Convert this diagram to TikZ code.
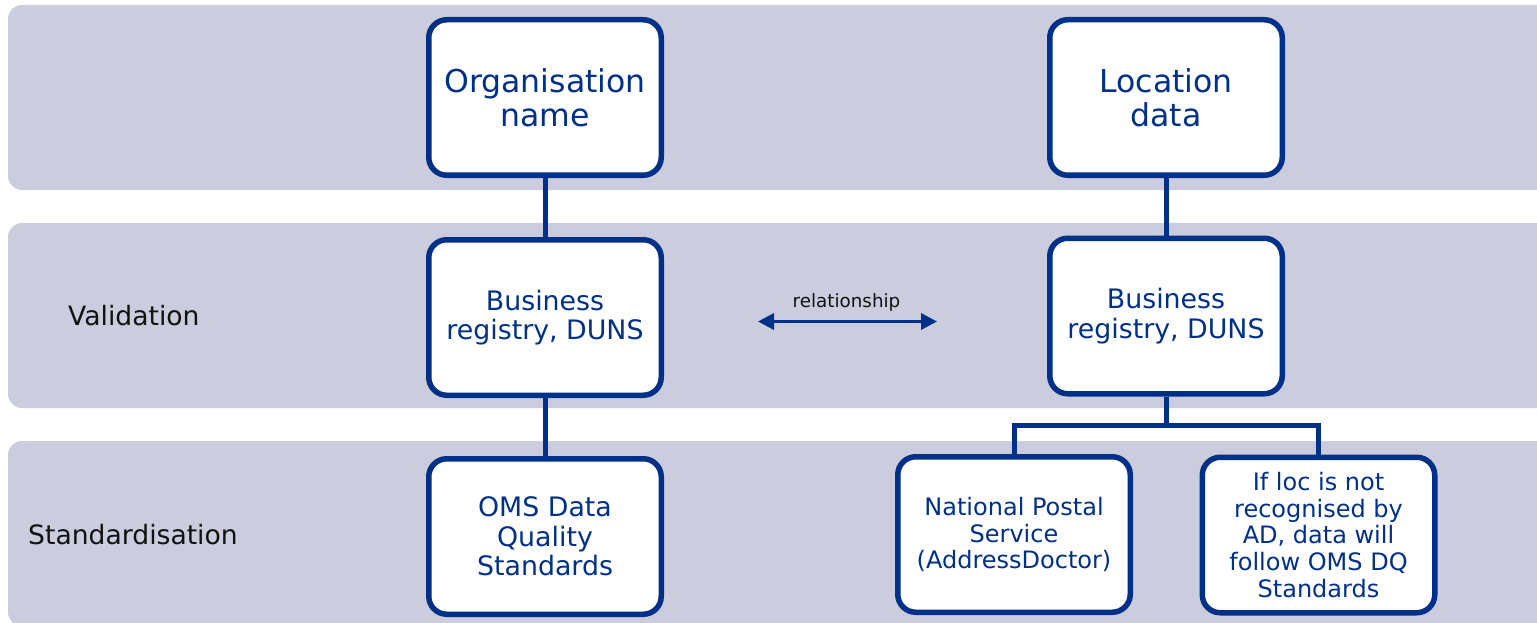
\documentclass[tikz,border=0pt]{standalone}
\usepackage{fontspec}
\setmainfont{DejaVu Sans}
\usetikzlibrary{arrows.meta}
\definecolor{band}{RGB}{203,205,222}
\definecolor{navy}{RGB}{0,48,135}
\begin{document}
\begin{tikzpicture}[x=1pt,y=-1pt,
  box/.style={draw=navy, line width=5.5pt, fill=white, rounded corners=18pt,
    minimum width=232.5pt, minimum height=155.5pt, inner sep=0pt, align=center, text=navy},
  conn/.style={draw=navy, line width=5pt},
  relarrow/.style={draw=navy, line width=3.5pt,
    {Triangle[length=16pt,width=16pt]}-{Triangle[length=16pt,width=16pt]}},
  bandbg/.style={fill=band, rounded corners=14pt},
  lbl/.style={font=\fontsize{26.6}{30}\selectfont, text=black!93, inner sep=0pt, anchor=base west},
  big/.style={font=\fontsize{31.5}{34}\selectfont},
  mid/.style={font=\fontsize{26.8}{29.5}\selectfont},
  small/.style={font=\fontsize{24}{26.6}\selectfont}]
\useasboundingbox (0,0) rectangle (1537,623);
\clip (0,0) rectangle (1537,623);
% bands
\fill[bandbg] (8,5) rectangle (1580,190);
\fill[bandbg] (8,223) rectangle (1580,408);
\fill[bandbg] (8,441) rectangle (1580,626);
% band labels
\node[lbl] (val) at (68,325) {Validation};
\node[lbl] (std) at (28,544) {Standardisation};
% boxes
\node[box, big] (org) at (545,97.5) {Organisation\\name};
\node[box, mid] (brl) at (545,317.5) {Business\\registry, DUNS};
\node[box, mid] (oms) at (545,536.5) {OMS Data\\Quality\\Standards};
\node[box, big] (loc) at (1166,97.5) {Location\\data};
\node[box, mid] (brr) at (1166,316) {Business\\registry, DUNS};
\node[box, small] (nps) at (1014,534.5) {National Postal\\Service\\(AddressDoctor)};
\node[box, small] (ifl) at (1318.5,535) {If loc is not\\recognised by\\AD, data will\\follow OMS DQ\\Standards};
% connectors
\draw[conn] (org) -- (brl);
\draw[conn] (brl) -- (oms);
\draw[conn] (loc) -- (brr);
\coordinate (fork) at (1166,425);
\draw[conn] (brr.south) -- (fork);
\draw[conn] (nps.north) |- (fork) -| (ifl.north);
% relationship arrow
\coordinate (r1) at (758,321.5);
\coordinate (r2) at (937,321.5);
\draw[relarrow] (r1) -- (r2);
\node[font=\fontsize{18.3}{21}\selectfont, text=black!93, inner sep=0pt, anchor=base] (rel) at (846.5,307) {relationship};
\end{tikzpicture}
\end{document}
